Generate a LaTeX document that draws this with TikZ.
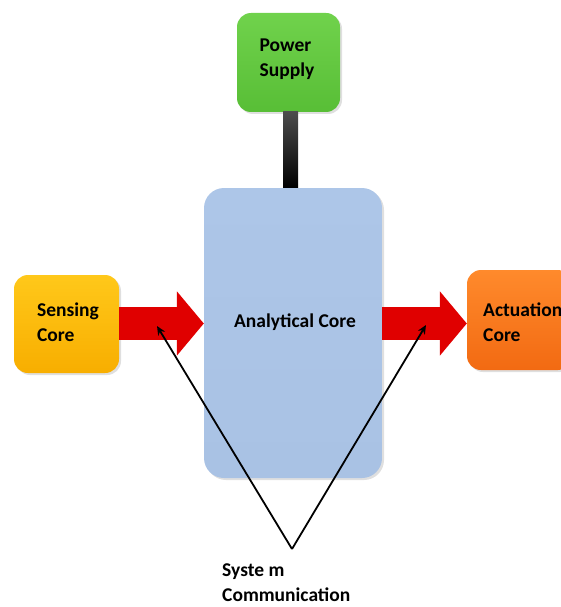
\documentclass[tikz,border=0pt]{standalone}
\usepackage{fontspec}
\setmainfont{Carlito}
\usetikzlibrary{arrows.meta,shadows,calc}
\definecolor{pgreen}{HTML}{70D24C}
\definecolor{pgreenb}{HTML}{58BE36}
\definecolor{syel}{HTML}{FFC81A}
\definecolor{syelb}{HTML}{F8AE00}
\definecolor{aorg}{HTML}{FF8A2C}
\definecolor{aorgb}{HTML}{F26A12}
\definecolor{ablue}{HTML}{ADC6E8}
\definecolor{ablueb}{HTML}{A9C2E4}
\definecolor{rarrow}{HTML}{E00000}
\begin{document}
\begin{tikzpicture}[x=1pt,y=-1pt,
  box/.style={rounded corners=14pt, minimum width=#1, inner sep=0pt,
    drop shadow={opacity=0.25, shadow xshift=2pt, shadow yshift=-2pt}},
  txt/.style={font=\fontsize{19.5}{25}\selectfont\bfseries, align=left, text=black, inner sep=0pt},
  fat/.style={draw=rarrow, line width=33pt,
    -{Triangle[length=27pt,width=63pt,fill=rarrow]}},
  comm/.style={draw=black, line width=1.8pt, -{Stealth[length=9pt,width=8pt]}}
]
\useasboundingbox (0,0) rectangle (561,607);
% analytical core
\node[box=178pt, minimum height=290pt, rounded corners=20pt, top color=ablue, bottom color=ablueb] (anal) at (293,333) {};
\node[txt] (anallabel) at (295,322) {Analytical Core};
% power supply
\node[box=103pt, minimum height=99pt, top color=pgreen, bottom color=pgreenb] (power) at (288.5,62.5) {};
\node[txt] (powerlabel) at (287,59) {Power\\Supply};
% bar
\coordinate (bartop) at (290.5,112);
\shade[top color=black!70, bottom color=black] ($(bartop)+(-7.5,0)$) rectangle ($(bartop |- anal.north)+(7.5,0)$);
% sensing core
\node[box=105pt, minimum height=98pt, top color=syel, bottom color=syelb] (sense) at (66.5,324) {};
\node[txt] (senselabel) at (68,322) {Sensing\\Core};
% actuation core
\node[box=105pt, minimum height=100pt, top color=aorg, bottom color=aorgb] (act) at (519.5,320) {};
\node[txt, anchor=west] (actlabel) at (483,322) {Actuation\\Core};
% red arrows
\path[fat] (sense.east |- 0,323.5) -- (anal.west |- 0,323.5);
\path[fat] (anal.east |- 0,323.5) -- (act.west |- 0,323.5);
% communication
\coordinate (apex) at (292,549);
\coordinate (lt) at (157,326);
\coordinate (rt) at (426,325);
\draw[comm] (apex) -- (lt);
\draw[comm] (apex) -- (rt);
\node[txt, anchor=base west] (commlabel) at (222,601) {Syste m\\Communication};
\end{tikzpicture}
\end{document}
